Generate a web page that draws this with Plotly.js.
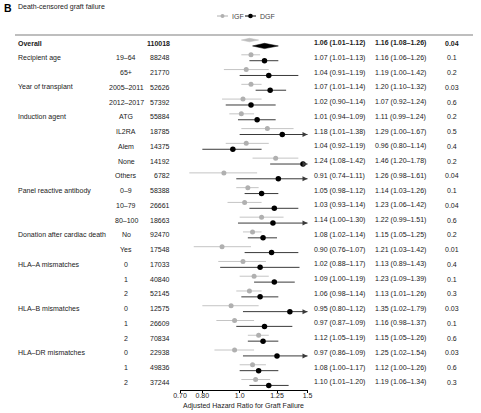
<!DOCTYPE html>
<html><head><meta charset="utf-8">
<script src="https://cdn.plot.ly/plotly-3.0.1.min.js"></script>
<style>html,body{margin:0;padding:0;background:#fff}#chart{width:481px;height:413px}</style>
</head><body><div id="chart"></div>
<script>
// ---------- data ----------
const groupLabels = ['Overall','Recipient age','','Year of transplant','','Induction agent','','','','','Panel reactive antibody','','','Donation after cardiac death','','HLA–A mismatches','','','HLA–B mismatches','','','HLA–DR mismatches','',''];
const levelLabels = ['','19–64','65+','2005–2011','2012–2017','ATG','IL2RA','Alem','None','Others','0–9','10–79','80–100','No','Yes','0','1','2','0','1','2','0','1','2'];
const nValues = [110018,88248,21770,52626,57392,55884,18785,14375,14192,6782,58388,26661,18663,92470,17548,17033,40840,52145,12575,26609,70834,22938,49836,37244];
const igfEst = [1.06,1.07,1.04,1.07,1.02,1.01,1.18,1.04,1.24,0.91,1.05,1.03,1.14,1.08,0.90,1.02,1.09,1.06,0.95,0.97,1.12,0.97,1.08,1.10];
const igfLo  = [1.01,1.01,0.91,1.01,0.90,0.94,1.01,0.92,1.08,0.74,0.98,0.93,1.00,1.02,0.76,0.88,1.00,0.98,0.80,0.87,1.05,0.86,1.00,1.01];
const igfHi  = [1.12,1.13,1.19,1.14,1.14,1.09,1.38,1.19,1.42,1.11,1.12,1.14,1.30,1.14,1.07,1.17,1.19,1.14,1.12,1.09,1.19,1.09,1.17,1.20];
const dgfEst = [1.16,1.16,1.19,1.20,1.07,1.11,1.29,0.96,1.46,1.26,1.14,1.23,1.22,1.15,1.21,1.13,1.23,1.13,1.35,1.16,1.15,1.25,1.12,1.19];
const dgfLo  = [1.08,1.06,1.00,1.10,0.92,0.99,1.00,0.80,1.20,0.98,1.03,1.06,0.99,1.05,1.03,0.89,1.09,1.01,1.02,0.98,1.05,1.02,1.00,1.06];
const dgfHi  = [1.26,1.26,1.42,1.32,1.24,1.24,1.67,1.14,1.78,1.61,1.26,1.42,1.51,1.25,1.42,1.43,1.39,1.26,1.79,1.37,1.26,1.54,1.26,1.34];
const pValues = ['0.04','0.1','0.2','0.03','0.6','0.2','0.5','0.4','0.2','0.04','0.1','0.04','0.6','0.2','0.01','0.4','0.1','0.3','0.03','0.1','0.6','0.03','0.6','0.3'];
const tickVals = [0.70,0.80,1.0,1.25,1.5];
const tickText = ['0.70','0.80','1.0','1.25','1.5'];
const xMin = 0.70, xMax = 1.5;

// ---------- geometry helpers ----------
const W = 481, H = 413;
const plotTop = 36, plotBottom = 390, plotLeft = 180, plotRight = 307.5;
const rowY0 = 43, rowStep = 14.76;
const px = v => v / W;
const py = v => (plotBottom - v) / (plotBottom - plotTop);
const rowAt = v => (v - rowY0) / rowStep;
const FONT = 'Liberation Sans, Arial, Helvetica, sans-serif';
const TXT = '#1a1a1a';
const off = 0.2;

const n = nValues.length;
const rows = [...Array(n).keys()];

function segs(lo, hi, shift) {
  const xs = [], ys = [];
  for (let i = 1; i < n; i++) { xs.push(lo[i], hi[i], null); ys.push(i + shift, i + shift, null); }
  return {xs, ys};
}
const igfS = segs(igfLo, igfHi, -off);
const dgfS = segs(dgfLo, dgfHi, off);

const traces = [];
traces.push({x: igfS.xs, y: igfS.ys, mode: 'lines', line: {color: '#c4c4c4', width: 1}, hoverinfo: 'skip', showlegend: false});
traces.push({x: dgfS.xs, y: dgfS.ys, mode: 'lines', line: {color: '#3a3a3a', width: 1}, hoverinfo: 'skip', showlegend: false});
traces.push({x: igfEst.slice(1), y: rows.slice(1).map(i => i - off), mode: 'markers', marker: {color: '#b0b0b0', size: 5}, showlegend: false});
traces.push({x: dgfEst.slice(1), y: rows.slice(1).map(i => i + off), mode: 'markers', marker: {color: '#000', size: 5.5}, showlegend: false});

const arrI = rows.filter(i => i > 0 && igfHi[i] > xMax);
const arrD = rows.filter(i => i > 0 && dgfHi[i] > xMax);
traces.push({x: arrI.map(() => xMax), y: arrI.map(i => i - off), mode: 'markers', cliponaxis: false,
  marker: {symbol: 'arrow-right', size: 5, color: '#c4c4c4'}, showlegend: false});
traces.push({x: arrD.map(() => xMax), y: arrD.map(i => i + off), mode: 'markers', cliponaxis: false,
  marker: {symbol: 'arrow-right', size: 5, color: '#3a3a3a'}, showlegend: false});

const hI = 0.12, hD = 0.18;
traces.push({x: [igfLo[0], igfEst[0], igfHi[0], igfEst[0], igfLo[0]], y: [-off, -off - hI, -off, -off + hI, -off],
  mode: 'lines', fill: 'toself', fillcolor: '#bdbdbd', line: {color: '#bdbdbd', width: 0.5}, showlegend: false});
traces.push({x: [dgfLo[0], dgfEst[0], dgfHi[0], dgfEst[0], dgfLo[0]], y: [off, off - hD, off, off + hD, off],
  mode: 'lines', fill: 'toself', fillcolor: '#000', line: {color: '#000', width: 0.5}, showlegend: false});

// ---------- annotations ----------
const ann = [];
function addText(text, xpx, yrow, anchor, opts) {
  ann.push(Object.assign({text, x: px(xpx), xref: 'paper', y: yrow, yref: 'y', xanchor: anchor, yanchor: 'middle',
    showarrow: false, font: {family: FONT, size: 7, color: TXT}}, opts || {}));
}
const fmt = (e, l, h) => e.toFixed(2) + ' (' + l.toFixed(2) + '–' + h.toFixed(2) + ')';
for (let i = 0; i < n; i++) {
  const b = s => i === 0 ? '<b>' + s + '</b>' : s;
  if (groupLabels[i]) addText(b(groupLabels[i]), 16, i, 'left');
  if (levelLabels[i]) addText(levelLabels[i], 126, i, 'center');
  addText(b(String(nValues[i])), 172, i, 'right');
  addText(b(fmt(igfEst[i], igfLo[i], igfHi[i])), 339, i, 'center');
  addText(b(fmt(dgfEst[i], dgfLo[i], dgfHi[i])), 400, i, 'center');
  addText(b(pValues[i]), 452, i, 'center');
}
const hy = rowAt(29);
addText('<b>Subgroup</b>', 16, hy, 'left');
addText('<b>N</b>', 161, hy, 'center');
addText('<b>IGF</b>', 338, hy, 'center');
addText('<b>DGF</b>', 401, hy, 'center');
addText('<b>Interaction P</b>', 452, hy, 'center');
ann.push({text: '<b>B</b>', x: px(2), xref: 'paper', y: py(8), yref: 'paper', xanchor: 'left', yanchor: 'middle', showarrow: false,
  font: {family: FONT, size: 10.5, color: '#000'}});
ann.push({text: 'Death-censored graft failure', x: px(16), xref: 'paper', y: py(7), yref: 'paper', xanchor: 'left', yanchor: 'middle', showarrow: false,
  font: {family: FONT, size: 7, color: TXT}});
ann.push({text: 'Adjusted Hazard Ratio for Graft Failure', x: px((plotLeft + plotRight) / 2), xref: 'paper', y: py(406), yref: 'paper',
  xanchor: 'center', yanchor: 'middle', showarrow: false, font: {family: FONT, size: 7, color: TXT}});
ann.push({text: 'IGF', x: px(230), xref: 'paper', y: py(16), yref: 'paper', xanchor: 'left', yanchor: 'middle', showarrow: false,
  font: {family: FONT, size: 7, color: '#444'}});
ann.push({text: 'DGF', x: px(258), xref: 'paper', y: py(16), yref: 'paper', xanchor: 'left', yanchor: 'middle', showarrow: false,
  font: {family: FONT, size: 7, color: '#444'}});

// ---------- shapes ----------
const shapes = [];
tickVals.forEach(v => {
  shapes.push({type: 'line', xref: 'x', yref: 'paper', x0: Math.log10(v), x1: Math.log10(v), y0: 0, y1: 1, layer: 'below',
    line: {color: '#bdbdbd', width: 1, dash: v === 1 ? 'solid' : 'dash'}});
});
shapes.push({type: 'line', xref: 'paper', yref: 'paper', x0: px(15), x1: px(473), y0: py(35), y1: py(35),
  line: {color: '#a8a8a8', width: 1.6}});
shapes.push({type: 'line', xref: 'paper', yref: 'paper', x0: px(217), x1: px(228), y0: py(16), y1: py(16), line: {color: '#b0b0b0', width: 1}});
shapes.push({type: 'circle', xref: 'paper', yref: 'paper', xsizemode: 'pixel', ysizemode: 'pixel', xanchor: px(222.5), yanchor: py(16),
  x0: -2, x1: 2, y0: -2, y1: 2, fillcolor: '#b0b0b0', line: {width: 0}});
shapes.push({type: 'line', xref: 'paper', yref: 'paper', x0: px(245), x1: px(256), y0: py(16), y1: py(16), line: {color: '#000', width: 1}});
shapes.push({type: 'circle', xref: 'paper', yref: 'paper', xsizemode: 'pixel', ysizemode: 'pixel', xanchor: px(250.5), yanchor: py(16),
  x0: -2.3, x1: 2.3, y0: -2.3, y1: 2.3, fillcolor: '#000', line: {width: 0}});

const layout = {
  width: W, height: H,
  margin: {l: 0, r: 0, t: plotTop, b: H - plotBottom, pad: 0},
  paper_bgcolor: '#fff', plot_bgcolor: '#fff',
  showlegend: false,
  xaxis: {type: 'log', domain: [px(plotLeft), px(plotRight)], range: [Math.log10(xMin), Math.log10(xMax)],
    tickvals: tickVals, ticktext: tickText, ticks: 'outside', ticklen: 2, tickcolor: '#000', tickwidth: 1,
    ticklabelstandoff: -3,
    showline: true, linecolor: '#000', linewidth: 1, showgrid: false, zeroline: false,
    tickfont: {family: FONT, size: 7, color: TXT}, fixedrange: true},
  yaxis: {range: [rowAt(plotBottom), rowAt(plotTop)], showgrid: false, zeroline: false, showticklabels: false,
    ticks: '', showline: false, fixedrange: true},
  annotations: ann, shapes: shapes
};
Plotly.newPlot('chart', traces, layout, {staticPlot: true, displayModeBar: false});
</script>
</body></html>
